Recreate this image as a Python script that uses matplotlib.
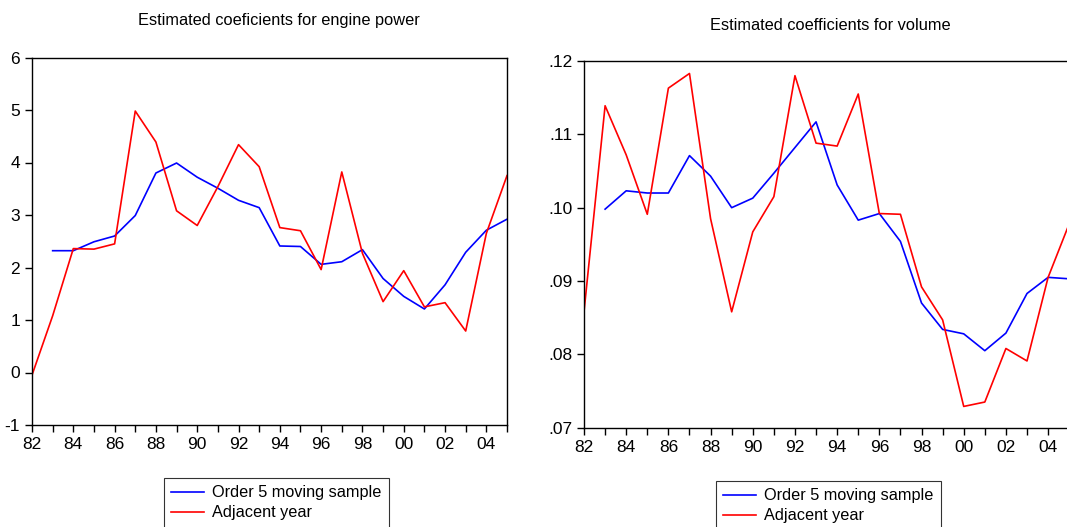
import matplotlib.pyplot as plt
from matplotlib.ticker import MultipleLocator, FuncFormatter
import numpy as np

plt.rcParams['font.family'] = ['Liberation Sans', 'DejaVu Sans']
plt.rcParams['axes.unicode_minus'] = False

years = np.arange(1982, 2006)

# engine power coefficients
power_adjacent = [-0.05, 1.08, 2.36, 2.35, 2.45, 4.98, 4.39, 3.08, 2.80, 3.54, 4.34, 3.92,
                  2.76, 2.70, 1.96, 3.82, 2.27, 1.35, 1.94, 1.25, 1.33, 0.79, 2.65, 3.75]
power_moving = [np.nan, 2.32, 2.32, 2.49, 2.60, 2.99, 3.80, 3.99, 3.72, 3.51, 3.28, 3.14,
                2.41, 2.40, 2.06, 2.11, 2.34, 1.79, 1.45, 1.21, 1.67, 2.29, 2.71, 2.92]

# volume coefficients
volume_adjacent = [.0858, .1139, .1072, .0991, .1163, .1183, .0985, .0858, .0967, .1015, .1180, .1088,
                   .1084, .1155, .0992, .0991, .0892, .0847, .0729, .0735, .0808, .0791, .0905, .0978]
volume_moving = [np.nan, .0998, .1023, .1020, .1020, .1071, .1043, .1000, .1013, .1047, .1082, .1117,
                 .1031, .0983, .0992, .0954, .0870, .0834, .0828, .0805, .0829, .0883, .0905, .0903]

fig = plt.figure(figsize=(10.67, 5.27), dpi=100)
ax1 = fig.add_axes([32/1067, 1-425/527, 475/1067, 367.5/527])
ax2 = fig.add_axes([584/1067, 1-427.7/527, 485.2/1067, 366.7/527])

def yr_fmt(x, pos):
    return '%02d' % (int(round(x)) % 100)

def style(ax):
    ax.set_xlim(1982, 2005)
    ax.xaxis.set_major_locator(MultipleLocator(2))
    ax.xaxis.set_minor_locator(MultipleLocator(1))
    ax.xaxis.set_major_formatter(FuncFormatter(yr_fmt))
    ax.tick_params(axis='both', which='both', direction='out', labelsize=12.5,
                   top=False, right=False, length=5, width=1)
    ax.tick_params(axis='x', which='minor', length=5)
    for sp in ax.spines.values():
        sp.set_linewidth(1.0)

ax1.plot(years, power_moving, color='blue', lw=1.2, label='Order 5 moving sample')
ax1.plot(years, power_adjacent, color='red', lw=1.2, label='Adjacent year')
style(ax1)
ax1.set_ylim(-1, 6)
ax1.set_yticks(range(-1, 7))

ax2.plot(years, volume_moving, color='blue', lw=1.2, label='Order 5 moving sample')
ax2.plot(years, volume_adjacent, color='red', lw=1.2, label='Adjacent year')
style(ax2)
ax2.set_ylim(0.07, 0.12)
ax2.set_yticks([0.07, 0.08, 0.09, 0.10, 0.11, 0.12])
ax2.yaxis.set_major_formatter(FuncFormatter(lambda v, p: ('%.2f' % v)[1:]))

fig.text(279/1067, 1-20/527, 'Estimated coeficients for engine power', ha='center', va='center', fontsize=11.8)
fig.text(830/1067, 1-25/527, 'Estimated coefficients for volume', ha='center', va='center', fontsize=11.8)

for ax, x0, y0 in [(ax1, 164, 478), (ax2, 716, 481)]:
    leg = fig.legend(*ax.get_legend_handles_labels(), loc='upper left',
                     bbox_to_anchor=(x0/1067, 1-y0/527), fontsize=11.7, frameon=True,
                     fancybox=False, edgecolor='black', borderaxespad=0,
                     handlelength=2.0, handletextpad=0.5, labelspacing=0.3,
                     borderpad=0.45)
    leg.get_frame().set_linewidth(0.8)

fig.savefig('out.png', dpi=100)
